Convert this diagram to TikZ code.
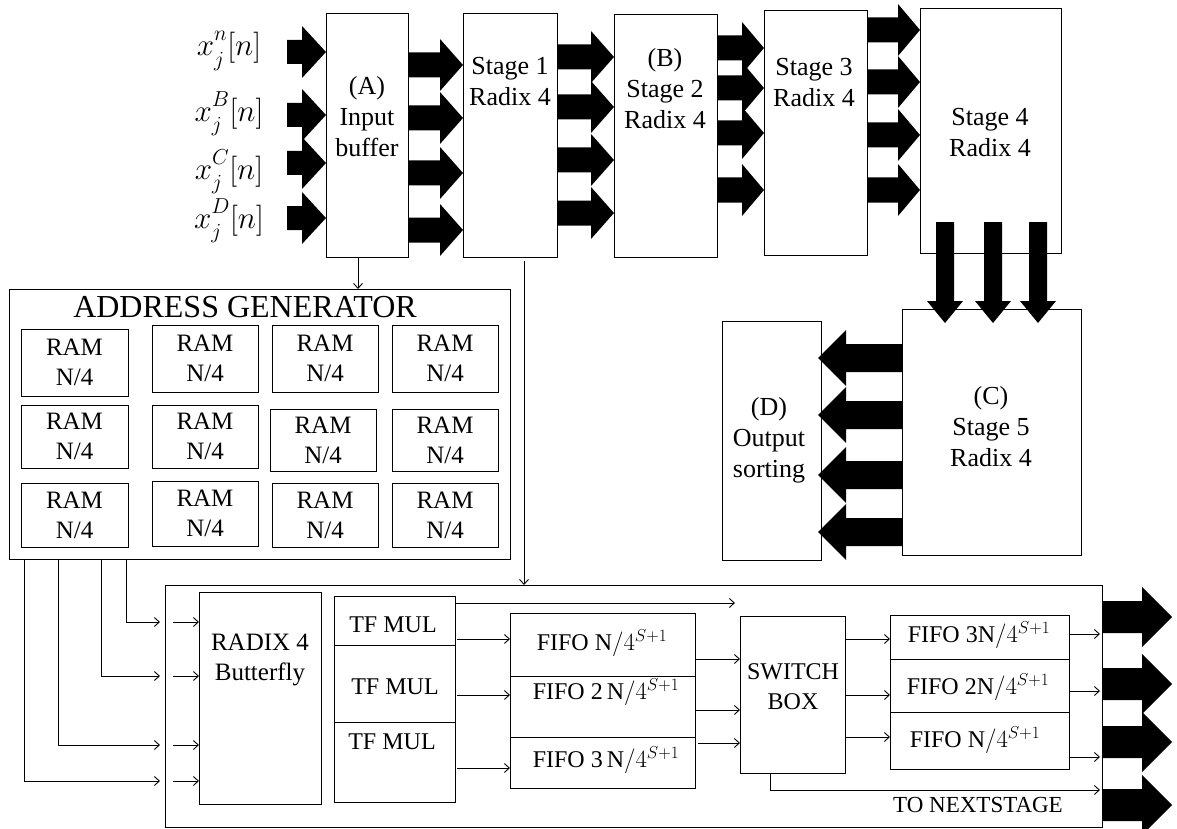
\documentclass[tikz,border=0pt]{standalone}
\usepackage{graphicx}
\usepackage{fontspec}
\setmainfont{Liberation Serif}
\usetikzlibrary{arrows.meta,calc}
\newcommand\fatarr[5]{%
  \coordinate (fatN) at ($(#2)!#5!(#1)$);
  \fill ($(#1)!#3!90:(#2)$) -- ($(fatN)!#3!90:(#2)$) -- ($(fatN)!#4!90:(#2)$) -- (#2) -- ($(fatN)!#4!-90:(#2)$) -- ($(fatN)!#3!-90:(#2)$) -- ($(#1)!#3!-90:(#2)$) -- cycle;}
\newcommand\xlab[1]{\scalebox{1.25}{$x^{\raisebox{3pt}{$\scriptstyle #1$}}_{\raisebox{-2pt}{$\scriptstyle j$}}[n]$}}
\begin{document}
\begin{tikzpicture}[x=1pt,y=-1pt,
  bx/.style={draw, line width=1pt, inner sep=0pt, outer sep=0pt, anchor=north west},
  tx/.style={inner sep=0pt, align=center, font=\fontsize{26}{31}\selectfont},
  rt/.style={inner sep=0pt, align=center, font=\fontsize{25}{30}\selectfont},
  bt/.style={inner sep=0pt, align=center, font=\fontsize{24}{30}\selectfont},
  ft/.style={inner sep=0pt, font=\fontsize{24}{28}\selectfont},
  ml/.style={inner sep=0pt, font=\fontsize{24}{28}\selectfont},
  arr/.style={line width=0.9pt, -{Straight Barb[length=5pt,width=9pt]}}]
\useasboundingbox (0,0) rectangle (1177,829);

% ---- top row boxes
\node[bx, minimum width=82pt, minimum height=243pt] (inbuf) at (326,14) {};
\node[bx, minimum width=94pt, minimum height=243pt] (st1) at (463,14) {};
\node[bx, minimum width=103pt, minimum height=242pt] (st2) at (614,15) {};
\node[bx, minimum width=103pt, minimum height=244pt] (st3) at (764,11) {};
\node[bx, minimum width=141pt, minimum height=244pt] (st4) at (920,9) {};
\node[bx, minimum width=179pt, minimum height=246pt] (st5) at (902,309) {};
\node[bx, minimum width=99pt, minimum height=239pt] (outs) at (722,321) {};

\node[tx] (inbuft) at (367,117) {(A)\\Input\\buffer};
\node[tx] (st1t) at (510,82) {Stage 1\\Radix 4};
\node[tx] (st2t) at (665,89) {(B)\\Stage 2\\Radix 4};
\node[tx] (st3t) at (814,83) {Stage 3\\Radix 4};
\node[tx] (st4t) at (990,133) {Stage 4\\Radix 4};
\node[tx] (st5t) at (991,427) {(C)\\Stage 5\\Radix 4};
\node[tx] (outst) at (769,440) {(D)\\Output\\sorting};

\node[ml] (xa) at (229,51) {\xlab{n}};
\node[ml] (xb) at (229,114) {\xlab{B}};
\node[ml] (xc) at (229,172) {\xlab{C}};
\node[ml] (xd) at (229,221) {\xlab{D}};

% ---- address generator
\node[bx, minimum width=501pt, minimum height=270pt] (addr) at (9,289) {};
\node[inner sep=0pt, font=\fontsize{32}{36}\selectfont] (addrt) at (245,307) {ADDRESS GENERATOR};
\foreach \n/\x/\y/\w/\h in {r11/21/329/107/67, r12/152/325/106/67, r13/272/325/106/67, r14/392/325/106/67,
  r21/21/405/107/63, r22/152/405/106/63, r23/270/409/106/62, r24/392/409/106/62,
  r31/21/483/107/64, r32/152/481/106/65, r33/272/483/106/64, r34/392/483/106/64} {
  \node[bx, minimum width=\w pt, minimum height=\h pt] (\n) at (\x,\y) {};
  \node[rt] (\n t) at (\n.center) {RAM\\N/4};
}

% ---- bottom block
\node[bx, minimum width=937pt, minimum height=242pt] (outer) at (165,585) {};
\node[bx, minimum width=122pt, minimum height=212pt] (radix) at (199,592) {};
\node[rt] (radixt) at (260,660) {RADIX 4\\Butterfly};
\node[bx, minimum width=121pt, minimum height=49pt] (tf1) at (334,596) {};
\node[bx, minimum width=121pt, minimum height=77pt] (tf2) at (334,645) {};
\node[bx, minimum width=121pt, minimum height=80pt] (tf3) at (334,722) {};
\node[bt] (tf1t) at (393,625) {TF MUL};
\node[bt] (tf2t) at (395,687) {TF MUL};
\node[bt] (tf3t) at (392,742) {TF MUL};
\node[bx, minimum width=185pt, minimum height=63pt] (f1) at (510,613) {};
\node[bx, minimum width=185pt, minimum height=61pt] (f2) at (510,676) {};
\node[bx, minimum width=185pt, minimum height=51pt] (f3) at (510,737) {};
\node[ft] (f1t) at (602,643) {FIFO $\mathrm{N}/4^{S+1}$};
\node[ft] (f2t) at (606,692) {FIFO 2\,$\mathrm{N}/4^{S+1}$};
\node[ft] (f3t) at (606,760) {FIFO 3\,$\mathrm{N}/4^{S+1}$};
\node[bx, minimum width=105pt, minimum height=157pt] (sw) at (740,616) {};
\node[bt] (swt) at (793,687) {SWITCH\\BOX};
\node[bx, minimum width=179pt, minimum height=44pt] (g1) at (890,615) {};
\node[bx, minimum width=179pt, minimum height=53pt] (g2) at (890,659) {};
\node[bx, minimum width=179pt, minimum height=57pt] (g3) at (890,712) {};
\node[ft] (g1t) at (979,635) {FIFO 3$\mathrm{N}/4^{S+1}$};
\node[ft] (g2t) at (978,687) {FIFO 2$\mathrm{N}/4^{S+1}$};
\node[ft] (g3t) at (975,740) {FIFO $\mathrm{N}/4^{S+1}$};
\node[inner sep=0pt, font=\fontsize{23}{26}\selectfont] (nextt) at (978,805) {TO NEXTSTAGE};

% ---- fat arrows
\foreach \y [count=\i] in {52,115,163,218} {
  \coordinate (ta) at (287,\y); \coordinate (tb) at (inbuf.west |- 0,\y);
  \fatarr{ta}{tb}{12pt}{26pt}{24pt}}
\foreach \y in {65,118,173,230} {
  \coordinate (ta) at (inbuf.east |- 0,\y); \coordinate (tb) at (st1.west |- 0,\y);
  \fatarr{ta}{tb}{12.5pt}{26pt}{23pt}}
\foreach \y in {57,107,160,213} {
  \coordinate (ta) at (st1.east |- 0,\y); \coordinate (tb) at (st2.west |- 0,\y);
  \fatarr{ta}{tb}{12.5pt}{26pt}{23pt}}
\foreach \y in {48,88,133,190} {
  \coordinate (ta) at (st2.east |- 0,\y); \coordinate (tb) at (st3.west |- 0,\y);
  \fatarr{ta}{tb}{12.5pt}{26pt}{22pt}}
\foreach \y in {30,82,135,190} {
  \coordinate (ta) at (st3.east |- 0,\y); \coordinate (tb) at (st4.west |- 0,\y);
  \fatarr{ta}{tb}{12.5pt}{26pt}{22pt}}
\foreach \x in {945,993,1038} {
  \coordinate (ta) at ($(st4.south -| \x,0)+(0,-31)$); \coordinate (tb) at ($(st5.north -| \x,0)+(0,14)$);
  \fatarr{ta}{tb}{9pt}{18pt}{22pt}}
\foreach \y in {358,415,475,532} {
  \coordinate (ta) at (st5.west |- 0,\y); \coordinate (tb) at ($(outs.east |- 0,\y)+(-3,0)$);
  \fatarr{ta}{tb}{14pt}{28pt}{28pt}}
\foreach \y in {617,684,742,805} {
  \coordinate (ta) at ($(outer.east |- 0,\y)+(1,0)$); \coordinate (tb) at (1172,\y);
  \fatarr{ta}{tb}{16pt}{30pt}{30pt}}

% ---- thin connectors
\draw[arr] (inbuf.south -| 358,0) -- (addr.north -| 358,0);
\draw[arr] ($(st1.south -| 524,0)+(0,4)$) -- (outer.north -| 524,0);
\foreach \x/\y in {126/622,101/676,58/745,24/781} {
  \draw[arr] (addr.south -| \x,0) |- ($(outer.west |- 0,\y)+(-5,0)$);
  \draw[arr] ($(outer.west |- 0,\y)+(8,0)$) -- (radix.west |- 0,\y);
}
\coordinate (tfend) at (735,603);
\draw[arr] (tf1.east |- 0,603) -- (tfend);
\foreach \y in {639,695,768}
  \draw[arr] ($(tf1.east |- 0,\y)+(2,0)$) -- (f1.west |- 0,\y);
\foreach \y in {659,710}
  \draw[arr] (f1.east |- 0,\y) -- (sw.west |- 0,\y);
\draw[arr] ($(f1.east |- 0,743)+(3,0)$) -- (sw.west |- 0,743);
\foreach \y in {639,695,737}
  \draw[arr] (sw.east |- 0,\y) -- (g1.west |- 0,\y);
\foreach \y in {634,691,757}
  \draw[arr] (g1.east |- 0,\y) -- ($(outer.east |- 0,\y)+(-2,0)$);
\draw[arr] (sw.south -| 770,0) |- ($(outer.east |- 0,790)+(-2,0)$);
\end{tikzpicture}
\end{document}
